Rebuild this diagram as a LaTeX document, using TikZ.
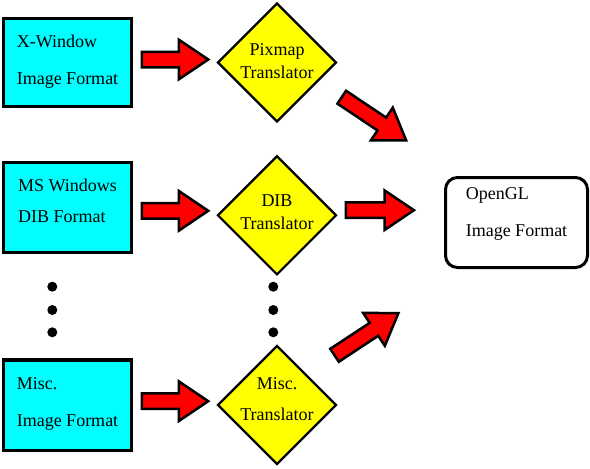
\documentclass[tikz,border=0pt]{standalone}
\usepackage{fontspec}
\setmainfont{Liberation Serif}
\usepackage{tikz}
\usetikzlibrary{shapes.geometric, shapes.arrows}
\definecolor{formatcyan}{RGB}{0,255,255}
\definecolor{transyellow}{RGB}{255,255,0}
\definecolor{flowred}{RGB}{255,0,0}
\tikzstyle{format} = [rectangle, draw=black, line width=3.2pt, fill=formatcyan, minimum width=128.4pt, minimum height=89.5pt, inner sep=0pt]
\tikzstyle{translator} = [diamond, draw=black, line width=2.2pt, fill=transyellow, minimum width=119pt, minimum height=119pt, inner sep=0pt, aspect=1]
\tikzstyle{target} = [rectangle, rounded corners=12pt, draw=black, line width=3pt, fill=white, minimum width=142pt, minimum height=90pt, inner sep=0pt]
\tikzstyle{flow} = [single arrow, draw=black, line width=2.5pt, fill=flowred, inner xsep=0pt, inner ysep=6.5pt, minimum height=66.5pt, single arrow head extend=12pt, single arrow tip angle=68, anchor=tail]
\tikzstyle{dot} = [circle, fill=black, minimum size=10pt, inner sep=0pt]
\newcommand{\twolines}[5]{\begin{tabular}{@{}#1@{}}#4\\[#2]#5\\[#3]\end{tabular}}

\begin{document}
\begin{tikzpicture}[x=1pt, y=-1pt, font=\fontsize{18}{21.6}\selectfont]

        \path[use as bounding box, fill=white] (0,0) rectangle (590,469);

        \node (xwin) [format, minimum height=88.4pt] at (67.5,62.5) {\twolines{l}{15.4pt}{2.3pt}{X-Window}{Image Format}};
        \node (mswin) [format, minimum height=90.1pt] at (67.5,207.4) {\twolines{l}{9pt}{9.3pt}{MS Windows}{DIB Format}};
        \node (misc) [format, minimum height=90.8pt] at (67.5,405.3) {\twolines{l}{15.8pt}{3.2pt}{Misc.}{Image Format}};

        \node (pix) [translator, label=center:{\twolines{c}{1.4pt}{0.3pt}{Pixmap}{Translator}}] at (277,62.5) {};
        \node (dib) [translator, label=center:{\twolines{c}{1pt}{3.2pt}{DIB}{Translator}}] at (277,215.3) {};
        \node (misctr) [translator, label=center:{\twolines{c}{9.1pt}{9.3pt}{Misc.}{Translator}}] at (277,405) {};

        \node (ogl) [target] at (516.5,222.5) {\twolines{l}{16.1pt}{17.9pt}{OpenGL}{Image Format}};

        \node (xwin2pix) [flow] at (140.5,59.5) {};
        \node (mswin2dib) [flow] at (140.5,210.8) {};
        \node (misc2tr) [flow] at (140.5,401.2) {};

        \node (pix2ogl) [flow, minimum height=77.5pt, rotate=-33.8] at (340.7,96.5) {};
        \node (dib2ogl) [flow, minimum height=68.2pt] at (344.5,210.2) {};
        \node (tr2ogl) [flow, minimum height=76.5pt, rotate=33.4] at (333.5,356) {};

        \node (ldot1) [dot] at (52.3,286.7) {};
        \node (ldot2) [dot] at (52.3,310) {};
        \node (ldot3) [dot] at (52.3,332.3) {};
        \node (rdot1) [dot] at (273.3,286.7) {};
        \node (rdot2) [dot] at (273.3,310) {};
        \node (rdot3) [dot] at (273.3,332.3) {};

    \end{tikzpicture}
\end{document}
